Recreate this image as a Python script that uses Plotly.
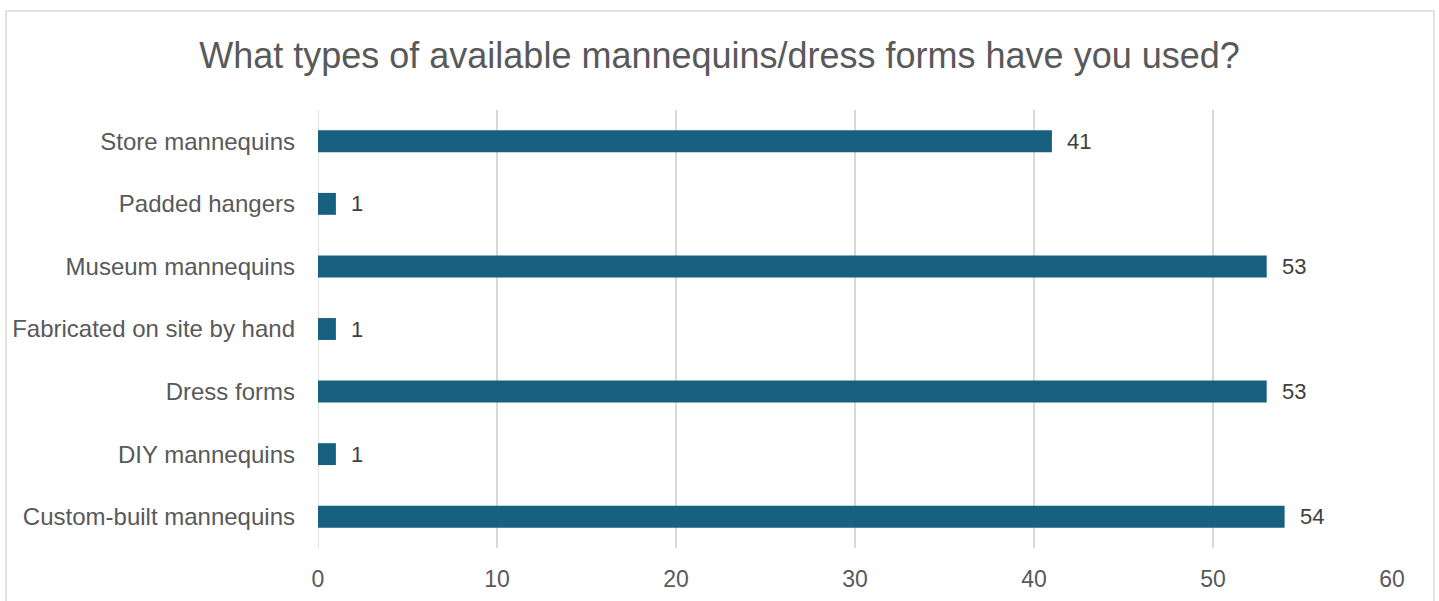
import plotly.graph_objects as go

categories = ["Store mannequins", "Padded hangers", "Museum mannequins",
              "Fabricated on site by hand", "Dress forms", "DIY mannequins",
              "Custom-built mannequins"]
values = [41, 1, 53, 1, 53, 1, 54]
x_ticks = [0, 10, 20, 30, 40, 50, 60]
title_text = "What types of available mannequins/dress forms have you used?"

BAR = "#17607f"
TXT = "#595959"
GRID = "#d9d9d9"
FONT = "Liberation Sans, Arial, sans-serif"

fig = go.Figure()
fig.add_trace(go.Bar(
    x=values, y=categories, orientation="h",
    marker=dict(color=BAR, line=dict(width=0)),
    hoverinfo="x+y",
))

annotations = []
for c, v in zip(categories, values):
    annotations.append(dict(
        x=v, y=c, xref="x", yref="y", text=str(v), showarrow=False,
        xanchor="left", yanchor="middle", xshift=13,
        font=dict(family=FONT, size=22, color="#404040"),
    ))

L, R, T, B = 318, 47, 110, 53
W, H = 1439, 601
pw, ph = W - L - R, H - T - B

fig.update_layout(
    width=W, height=H,
    margin=dict(l=L, r=R, t=T, b=B, pad=0, autoexpand=False),
    paper_bgcolor="white", plot_bgcolor="white",
    bargap=0.65,
    showlegend=False,
    title=dict(text=title_text, x=0.5, xref="container", xanchor="center",
               y=1 - 55 / H, yanchor="middle", yref="container",
               font=dict(family=FONT, size=36, color=TXT)),
    xaxis=dict(range=[0, 60], tickvals=x_ticks, showgrid=True,
               gridcolor=GRID, gridwidth=1.5, zeroline=False,
               showline=False, ticks="", ticklabelstandoff=15,
               automargin=False,
               tickfont=dict(family=FONT, size=23, color=TXT),
               fixedrange=True),
    yaxis=dict(categoryorder="array", categoryarray=categories[::-1],
               showgrid=False, zeroline=False, showline=False, ticks="",
               ticklabelstandoff=22, automargin=False,
               tickfont=dict(family=FONT, size=24, color=TXT),
               fixedrange=True),
    annotations=annotations,
    shapes=[dict(type="rect", xref="paper", yref="paper",
                 x0=(6 - L) / pw, x1=(1434 - L) / pw,
                 y0=(T + ph - 610) / ph, y1=(T + ph - 11) / ph,
                 line=dict(color=GRID, width=1.5), fillcolor="rgba(0,0,0,0)",
                 layer="below"),
            dict(type="line", xref="x", yref="paper", x0=0, x1=0, y0=0, y1=1,
                 line=dict(color=GRID, width=1.5), layer="below")],
)

fig.write_html("out.html",
               config={"displayModeBar": False},
               post_script="document.body.style.margin='0';"
                           "document.body.style.overflow='hidden';")
